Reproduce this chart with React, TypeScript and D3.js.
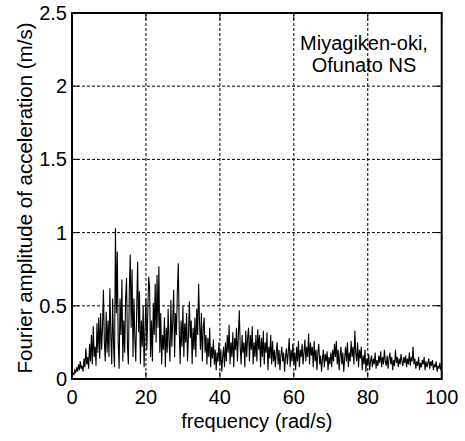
import React from "react";
import * as d3 from "d3";

const STEP = 0.25;
const amp0 = [0.02,0.04,0.03,0.06,0.04,0.08,0.05,0.10,0.06,0.12,0.07,0.09,0.05,0.14,0.08,0.21,0.10,0.15,0.07,0.24,0.12,0.30,0.10,0.36,0.15,0.22,0.09,0.38,0.18,0.42,0.14,0.45,0.20,0.35,0.61,0.25,0.12,0.46,0.18,0.40];
const amp1 = [0.15,0.62,0.30,0.10,0.55,0.22,0.08,1.03,0.45,0.87,0.25,0.07,0.55,0.30,0.68,0.12,0.40,0.18,0.55,0.69,0.22,0.10,0.60,0.85,0.35,0.75,0.15,0.55,0.28,0.12,0.48,0.80,0.32,0.60,0.10,0.40,0.22,0.50,0.08,0.35];
const amp2 = [0.55,0.20,0.45,0.70,0.62,0.15,0.40,0.12,0.52,0.30,0.65,0.25,0.71,0.35,0.77,0.18,0.45,0.10,0.30,0.20,0.42,0.08,0.35,0.18,0.48,0.25,0.12,0.54,0.22,0.40,0.61,0.15,0.45,0.30,0.60,0.79,0.35,0.10,0.40,0.22];
const amp3 = [0.50,0.15,0.38,0.25,0.45,0.12,0.30,0.53,0.28,0.40,0.10,0.35,0.20,0.42,0.15,0.48,0.30,0.65,0.38,0.20,0.45,0.12,0.35,0.42,0.18,0.30,0.10,0.28,0.15,0.35,0.08,0.22,0.14,0.27,0.10,0.20,0.06,0.18,0.12,0.25];
const amp4 = [0.10,0.20,0.05,0.15,0.22,0.08,0.25,0.12,0.30,0.18,0.37,0.10,0.25,0.15,0.32,0.08,0.28,0.20,0.35,0.12,0.30,0.47,0.22,0.10,0.30,0.18,0.25,0.08,0.33,0.15,0.28,0.35,0.12,0.30,0.20,0.36,0.10,0.25,0.15,0.30];
const amp5 = [0.12,0.34,0.20,0.30,0.08,0.28,0.15,0.33,0.10,0.25,0.18,0.32,0.06,0.22,0.14,0.30,0.10,0.26,0.12,0.20,0.08,0.18,0.25,0.10,0.20,0.06,0.16,0.22,0.12,0.18,0.05,0.15,0.21,0.10,0.18,0.28,0.08,0.20,0.12,0.24];
const amp6 = [0.10,0.18,0.06,0.22,0.12,0.26,0.08,0.20,0.15,0.24,0.10,0.18,0.27,0.12,0.22,0.15,0.31,0.10,0.25,0.16,0.22,0.08,0.26,0.12,0.20,0.06,0.18,0.24,0.10,0.16,0.05,0.14,0.20,0.08,0.17,0.12,0.19,0.06,0.15,0.10];
const amp7 = [0.18,0.08,0.20,0.12,0.24,0.15,0.26,0.10,0.20,0.06,0.16,0.22,0.10,0.18,0.05,0.14,0.22,0.12,0.25,0.08,0.18,0.12,0.26,0.15,0.22,0.10,0.33,0.18,0.12,0.25,0.08,0.20,0.14,0.22,0.06,0.16,0.10,0.20,0.05,0.14];
const amp8 = [0.10,0.17,0.06,0.12,0.16,0.08,0.14,0.10,0.18,0.07,0.13,0.09,0.16,0.11,0.19,0.08,0.15,0.10,0.20,0.12,0.09,0.16,0.07,0.14,0.18,0.10,0.15,0.06,0.13,0.09,0.20,0.11,0.15,0.08,0.14,0.10,0.17,0.12,0.09,0.15];
const amp9 = [0.11,0.16,0.08,0.14,0.10,0.18,0.09,0.15,0.12,0.22,0.10,0.14,0.07,0.12,0.09,0.15,0.06,0.11,0.08,0.13,0.10,0.15,0.06,0.12,0.08,0.11,0.14,0.07,0.12,0.09,0.13,0.06,0.10,0.08,0.12,0.05,0.09,0.07,0.11,0.06,0.08];

const xTicks = [0, 20, 40, 60, 80, 100];
const yTicks = [0, 0.5, 1, 1.5, 2, 2.5];
const yTickLabels = ["0", "0.5", "1", "1.5", "2", "2.5"];
const annotation = ["Miyagiken-oki,", "Ofunato NS"];

const amplitudes = [...amp0, ...amp1, ...amp2, ...amp3, ...amp4, ...amp5, ...amp6, ...amp7, ...amp8, ...amp9];
const data = amplitudes.map((a, i) => ({ f: i * STEP, a }));

export default function App() {
  const W = 465, H = 441;
  const L = 72, R = 441.7, T = 13, B = 379;
  const x = d3.scaleLinear().domain([0, 100]).range([L, R]);
  const y = d3.scaleLinear().domain([0, 2.5]).range([B, T]);
  const line = d3.line<{ f: number; a: number }>().x(d => x(d.f)).y(d => y(d.a));
  const font = "Arial, 'Liberation Sans', sans-serif";
  const fs = 20;
  return (
    <svg width={W} height={H} style={{ position: "absolute", left: 0, top: 0, background: "#fff" }} fontFamily={font}>
      <rect x={0} y={0} width={W} height={H} fill="#fff" />
      {xTicks.slice(1, -1).map(t => (
        <line key={"gx" + t} x1={x(t)} x2={x(t)} y1={T} y2={B} stroke="#000" strokeWidth={1} strokeDasharray="3,2" />
      ))}
      {yTicks.slice(1, -1).map(t => (
        <line key={"gy" + t} x1={L} x2={R} y1={y(t)} y2={y(t)} stroke="#000" strokeWidth={1} strokeDasharray="3,2" />
      ))}
      <path d={line(data) || ""} fill="none" stroke="#000" strokeWidth={1.1} />
      {xTicks.map(t => (
        <g key={"tx" + t}>
          <line x1={x(t)} x2={x(t)} y1={B} y2={B - 7} stroke="#000" strokeWidth={1} />
          <line x1={x(t)} x2={x(t)} y1={T} y2={T + 7} stroke="#000" strokeWidth={1} />
          <text x={x(t)} y={403.5} textAnchor="middle" fontSize={fs}>{t}</text>
        </g>
      ))}
      {yTicks.map((t, i) => (
        <g key={"ty" + t}>
          <line x1={L} x2={L + 7} y1={y(t)} y2={y(t)} stroke="#000" strokeWidth={1} />
          <line x1={R} x2={R - 7} y1={y(t)} y2={y(t)} stroke="#000" strokeWidth={1} />
          <text x={67} y={y(t)} dy="0.35em" textAnchor="end" fontSize={fs}>{yTickLabels[i]}</text>
        </g>
      ))}
      <rect x={L} y={T} width={R - L} height={B - T} fill="none" stroke="#000" strokeWidth={2} />
      <text x={(L + R) / 2} y={428} textAnchor="middle" fontSize={20}>frequency (rad/s)</text>
      <text transform={`translate(31.5,198) rotate(-90)`} textAnchor="middle" fontSize={20.5}>Fourier amplitude of acceleration (m/s)</text>
      {annotation.map((s, i) => (
        <text key={s} x={364} y={50 + i * 22} textAnchor="middle" fontSize={20}>{s}</text>
      ))}
    </svg>
  );
}
